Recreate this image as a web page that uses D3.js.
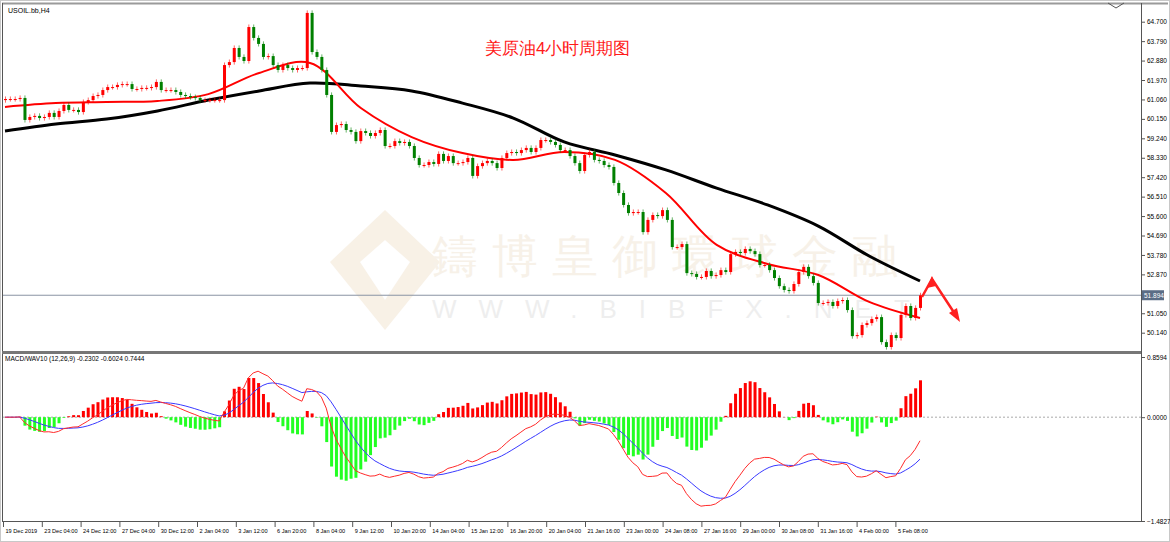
<!DOCTYPE html>
<meta charset="utf-8">
<style>
  body { margin:0; background:#fff; font-family:"Liberation Sans", sans-serif; }
  text { font-family:"Liberation Sans", sans-serif; }
</style>
<script src="https://d3js.org/d3.v7.min.js"></script>
<div id="svg-holder"></div>
<script>
    // closes of USOIL H4 bars
    var closes = [
        61.08,61.08,61.08,61.13,60.10,60.24,60.29,60.19,60.24,60.43,60.24,60.52,60.80,60.57,60.57,60.47,
        60.94,61.03,61.22,61.27,61.50,61.64,61.64,61.74,61.78,61.78,61.55,61.55,61.60,61.60,61.64,61.88,
        61.50,61.50,61.50,61.41,61.27,61.22,61.17,61.13,61.03,61.03,61.03,61.03,61.03,62.67,62.81,63.47,
        63.05,62.86,64.45,63.94,63.66,63.05,63.09,62.67,62.44,62.67,62.53,62.44,62.53,62.53,65.11,63.28,
        63.05,62.44,61.27,59.54,59.86,59.91,59.63,59.54,59.11,59.58,59.49,59.35,59.49,59.63,58.88,58.88,
        59.11,59.02,59.07,58.88,58.32,57.99,57.99,58.13,58.04,58.51,58.18,58.41,58.08,58.08,58.13,58.32,
        57.48,57.94,58.08,58.18,58.08,57.85,58.32,58.55,58.60,58.55,58.69,58.79,58.60,58.79,59.16,59.16,
        59.07,58.93,58.69,58.69,58.41,58.08,57.71,58.46,58.60,58.23,58.18,57.99,57.90,57.15,56.68,56.12,
        55.74,55.79,55.79,54.85,55.42,55.65,55.60,55.88,55.42,54.15,54.15,54.29,52.93,52.89,52.75,52.75,
        53.03,52.79,52.84,53.07,52.98,53.82,53.92,53.87,54.06,53.96,53.82,53.31,53.31,53.07,52.70,52.32,
        52.14,52.09,52.42,52.98,53.22,52.79,52.47,51.53,51.53,51.58,51.39,51.62,51.67,51.20,49.98,50.03,
        50.50,50.59,50.78,50.87,49.70,49.47,50.03,49.89,50.97,51.39,50.83,51.30,51.89
    ];
    var firstOpen = 61.03;
    // moving averages sampled at evenly spaced bars (first bar .. last bar)
    var maFast = [60.71,60.89,60.94,60.99,61.31,62.30,62.77,60.66,59.30,58.55,58.23,58.60,58.23,56.68,54.25,53.36,52.84,51.58,50.83];
    var maSlow = [59.58,59.91,60.14,60.52,61.03,61.46,61.83,61.69,61.46,60.89,60.19,59.07,58.46,57.76,56.91,56.12,55.13,53.73,52.56];
    var priceTicks = [64.700,63.790,62.880,61.970,61.060,60.150,59.240,58.330,57.420,56.510,55.600,54.690,53.780,52.870,51.050,50.140];
    var timeLabels = ["19 Dec 2019","23 Dec 04:00","24 Dec 12:00","27 Dec 04:00","30 Dec 12:00","2 Jan 04:00",
        "3 Jan 12:00","6 Jan 20:00","8 Jan 04:00","9 Jan 12:00","10 Jan 20:00","14 Jan 04:00","15 Jan 12:00",
        "16 Jan 20:00","20 Jan 04:00","21 Jan 16:00","23 Jan 00:00","24 Jan 08:00","27 Jan 16:00","29 Jan 00:00",
        "30 Jan 08:00","31 Jan 16:00","4 Feb 00:00","5 Feb 08:00"];
    var lastPrice = 51.894;

    var width = 1170, height = 542;
    var axisX = 1141;
    var n = closes.length;

    var svg = d3.select("#svg-holder").append("svg").attr("width", width).attr("height", height);

    var x = d3.scaleLinear().domain([0, n - 1]).range([5, 920]);
    var y = d3.scaleLinear().domain([64.7, 50.14]).range([21.7, 332.7]);
    var ym = d3.scaleLinear().domain([0.8594, -1.4827]).range([357, 521]);

    // frames
    svg.append("rect").attr("x", 0.5).attr("y", 0.5).attr("width", width - 1).attr("height", height - 1)
        .attr("fill", "none").attr("stroke", "#c8c8c8");
    svg.append("line").attr("x1", 2).attr("x2", width - 2).attr("y1", 3.5).attr("y2", 3.5).attr("stroke", "#9a9a9a").attr("stroke-width", 2);
    svg.append("line").attr("x1", 2.5).attr("x2", 2.5).attr("y1", 3).attr("y2", 522).attr("stroke", "#555");
    svg.append("line").attr("x1", axisX + 0.5).attr("x2", axisX + 0.5).attr("y1", 3).attr("y2", 522).attr("stroke", "#555");
    svg.append("line").attr("x1", 2).attr("x2", axisX).attr("y1", 352.5).attr("y2", 352.5).attr("stroke", "#777").attr("stroke-width", 3);
    svg.append("line").attr("x1", 2).attr("x2", axisX).attr("y1", 521.5).attr("y2", 521.5).attr("stroke", "#555");
    svg.append("path").attr("d", "M1108,3 L1116,8 L1124,3").attr("fill", "none").attr("stroke", "#555");

    // watermark
    var wm = svg.append("g").attr("opacity", 0.3);
    wm.append("path").attr("d", "M385,210 L440,262 L385,330 L330,262 Z M385,240 L410,262 L385,300 L360,262 Z")
        .attr("fill", "#e9d2b0").attr("fill-rule", "evenodd");
    wm.append("text").attr("x", 432).attr("y", 272).attr("font-size", 46).attr("fill", "#e6d3b6")
        .attr("letter-spacing", 14).attr("font-family", "Noto Sans CJK TC").text("鑄博皇御環球金融");
    wm.append("text").attr("x", 432).attr("y", 318).attr("font-size", 26).attr("fill", "#c9c9c9")
        .attr("letter-spacing", 22).text("WWW.BIBFX.NET");

    svg.append("text").attr("x", 8).attr("y", 13).attr("font-size", 7).attr("fill", "#000").text("USOIL.bb,H4");
    svg.append("text").attr("x", 485).attr("y", 54).attr("font-size", 17).attr("fill", "#ff1a1a")
        .attr("font-family", "Noto Sans CJK SC").text("美原油4小时周期图");

    // current price line
    svg.append("line").attr("x1", 3).attr("x2", axisX).attr("y1", y(lastPrice)).attr("y2", y(lastPrice))
        .attr("stroke", "#8a93a3").attr("stroke-width", 1);

    // moving averages
    var mx = d3.scaleLinear().domain([0, maFast.length - 1]).range([x(0), x(n - 1)]);
    var maLine = d3.line().x(function(d, i) { return mx(i); }).y(function(d) { return y(d); }).curve(d3.curveCatmullRom);
    svg.append("path").attr("d", maLine(maSlow)).attr("fill", "none").attr("stroke", "#000").attr("stroke-width", 3);
    svg.append("path").attr("d", maLine(maFast)).attr("fill", "none").attr("stroke", "#ff0000").attr("stroke-width", 2);

    // candles
    var bars = closes.map(function(c, i) {
        var o = i === 0 ? firstOpen : closes[i - 1];
        return {i: i, o: o, c: c, h: Math.max(o, c) + 0.12, l: Math.min(o, c) - 0.12};
    });
    var cg = svg.append("g");
    bars.forEach(function(b) {
        var col = b.c >= b.o ? "#ff0000" : "#008000";
        cg.append("line").attr("x1", x(b.i) + 0.5).attr("x2", x(b.i) + 0.5)
            .attr("y1", y(b.h)).attr("y2", y(b.l)).attr("stroke", col).attr("stroke-opacity", 0.6);
        var top = Math.min(y(b.o), y(b.c));
        cg.append("rect").attr("x", x(b.i) - 1).attr("y", top).attr("width", 3)
            .attr("height", Math.max(1, Math.abs(y(b.o) - y(b.c)))).attr("fill", col);
    });

    // drawn forecast arrow
    svg.append("path").attr("d", "M922,297 L932,279 L955,314").attr("fill", "none").attr("stroke", "#ff2020").attr("stroke-width", 2.5);
    svg.append("path").attr("d", "M960,322 L949,313 L957,308 Z").attr("fill", "#ff2020");
    svg.append("path").attr("d", "M932,276 L927,288 L936,286 Z").attr("fill", "#ff2020");

    // price axis
    var pAxis = svg.append("g").attr("transform", "translate(" + (axisX + 1) + ",0)")
        .call(d3.axisRight(y).tickValues(priceTicks).tickSize(3).tickFormat(d3.format(".3f")));
    pAxis.select(".domain").remove();
    pAxis.selectAll("text").attr("font-size", 6.5).attr("fill", "#000").attr("x", 5);
    pAxis.selectAll("line").attr("stroke", "#555");
    svg.append("rect").attr("x", axisX + 1).attr("y", y(lastPrice) - 5).attr("width", 22).attr("height", 10).attr("fill", "#5b6d86");
    svg.append("text").attr("x", axisX + 3).attr("y", y(lastPrice) + 2.5).attr("font-size", 6.5).attr("fill", "#fff").text(lastPrice.toFixed(3));

    // MACD computed from closes
    function ema(arr, p) {
        var k = 2 / (p + 1), out = [], prev = arr[0];
        arr.forEach(function(v) { prev = v * k + prev * (1 - k); out.push(prev); });
        return out;
    }
    var e12 = ema(closes, 12), e26 = ema(closes, 26);
    var macd = e12.map(function(v, i) { return v - e26[i]; });
    var signal = ema(macd, 9);
    var hist = macd.map(function(v, i) { return 2 * (v - signal[i]); });

    svg.append("line").attr("x1", 3).attr("x2", axisX).attr("y1", ym(0)).attr("y2", ym(0))
        .attr("stroke", "#aaa").attr("stroke-dasharray", "2,2");
    svg.append("g").selectAll("rect").data(hist).join("rect")
        .attr("x", function(d, i) { return x(i) - 1; })
        .attr("y", function(d) { return Math.min(ym(d), ym(0)); })
        .attr("width", 3)
        .attr("height", function(d) { return Math.abs(ym(d) - ym(0)); })
        .attr("fill", function(d) { return d >= 0 ? "#ff0000" : "#22ff22"; });
    var mLine = d3.line().x(function(d, i) { return x(i); }).y(function(d) { return ym(d); });
    svg.append("path").attr("d", mLine(signal)).attr("fill", "none").attr("stroke", "#3a3aff").attr("stroke-width", 1);
    svg.append("path").attr("d", mLine(macd)).attr("fill", "none").attr("stroke", "#ff2a2a").attr("stroke-width", 1);
    svg.append("text").attr("x", 5).attr("y", 361).attr("font-size", 6.5).attr("fill", "#000")
        .text("MACD/WAV10 (12,26,9) -0.2302 -0.6024 0.7444");

    var mAxis = svg.append("g").attr("transform", "translate(" + (axisX + 1) + ",0)")
        .call(d3.axisRight(ym).tickValues([0.8594, 0, -1.4827]).tickSize(3).tickFormat(d3.format(".4f")));
    mAxis.select(".domain").remove();
    mAxis.selectAll("text").attr("font-size", 6.5).attr("fill", "#000").attr("x", 5);
    mAxis.selectAll("line").attr("stroke", "#555");

    // time axis
    var tx = d3.scalePoint().domain(timeLabels).range([3, 3 + 23 * 38.8]);
    var tAxis = svg.append("g").attr("transform", "translate(0,522)")
        .call(d3.axisBottom(tx).tickSize(5));
    tAxis.select(".domain").remove();
    tAxis.selectAll("line").attr("stroke", "#555");
    tAxis.selectAll("text").attr("font-size", 5.6).attr("fill", "#000").attr("text-anchor", "start").attr("x", 2).attr("y", 7);
</script>
